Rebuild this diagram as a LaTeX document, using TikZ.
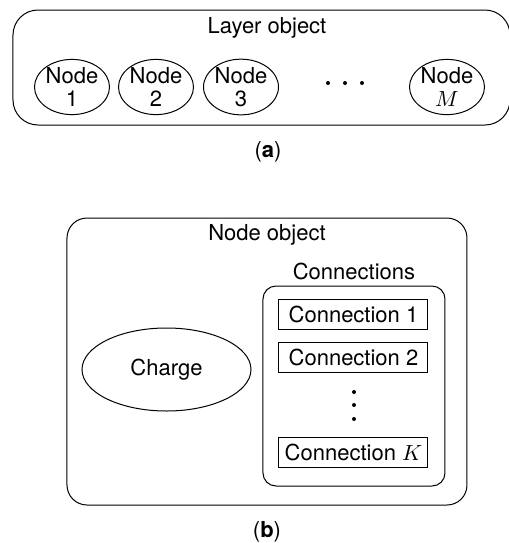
\documentclass[tikz,border=0pt]{standalone}
\usepackage{fontspec}
\setmainfont{TeX Gyre Heros}
\usetikzlibrary{shapes.geometric}
\begin{document}
\begin{tikzpicture}[x=0.5pt,y=-0.5pt,line width=0.5pt,
  every node/.style={font=\fontsize{11}{11.5}\selectfont},
  container/.style={draw,rounded corners=#1,inner sep=0pt},
  nodeell/.style={draw,ellipse,minimum width=37.5pt,minimum height=26.5pt,inner sep=0pt,align=center},
  conbox/.style={draw,minimum width=74.5pt,minimum height=15pt,inner sep=0pt}]
\useasboundingbox (0,0) rectangle (509,543);
% (a) layer
\node[container=12.5pt,minimum width=248.5pt,minimum height=57.5pt] (layer) at (261.5,67.5) {};
\node (layertitle) at (267,28) {Layer object};
\foreach \i/\x in {1/72,2/156,3/241}
  \node[nodeell] (node\i) at (\x,87) {Node\\\i};
\node[nodeell] (nodeM) at (447,87) {Node\\$M$};
\foreach \x in {328,345,362} \fill (\x,83) circle (2);
\node (capa) at (268,152) {(\textbf{a})};
% (b) node
\node[container=10pt,minimum width=200pt,minimum height=143.5pt] (nodeobj) at (267,361.5) {};
\node (nodetitle) at (267,235) {Node object};
\node[nodeell,minimum width=84.5pt,minimum height=41.5pt] (charge) at (166.5,369.5) {Charge};
\node (contitle) at (354,271) {Connections};
\node[container=6.5pt,minimum width=91pt,minimum height=100pt] (conlist) at (354,386) {};
\foreach \i/\y in {1/314,2/357.5}
  \node[conbox] (con\i) at (353.5,\y) {Connection \i};
\node[conbox] (conK) at (353.5,452) {Connection $K$};
\foreach \y in {392,405,419} \fill (354,\y) circle (2);
\node (capb) at (267,532) {(\textbf{b})};
\end{tikzpicture}
\end{document}
